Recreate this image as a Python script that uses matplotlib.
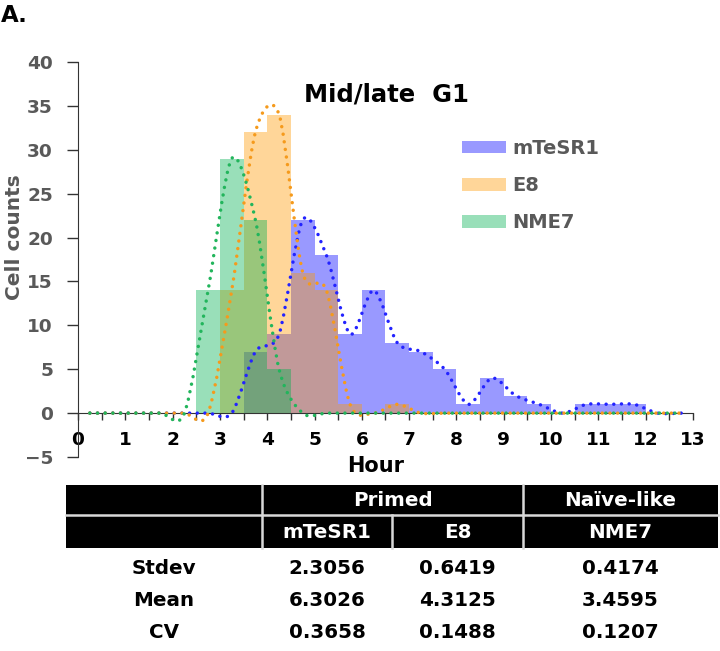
import matplotlib
matplotlib.use("Agg")
import matplotlib.pyplot as plt
import numpy as np
from matplotlib.path import Path
from matplotlib.patches import PathPatch, Rectangle

# cell counts per 0.5 h bin, 0 - 13 h
bin_edges = np.arange(0, 13.5, 0.5)
mtesr1 = [0, 0, 0, 0, 0, 0, 0, 7, 9, 22, 18, 9, 14, 8, 7, 5, 1, 4, 2, 1, 0, 1, 1, 1, 0, 0]
e8 = [0, 0, 0, 0, 0, 0, 14, 32, 34, 16, 14, 1, 0, 1, 0, 0, 0, 0, 0, 0, 0, 0, 0, 0, 0, 0]
nme7 = [0, 0, 0, 0, 0, 14, 29, 22, 5, 0, 0, 0, 0, 0, 0, 0, 0, 0, 0, 0, 0, 0, 0, 0, 0, 0]

series_names = ["mTeSR1", "E8", "NME7"]
bar_colors = ["#0000ff", "#ff9900", "#00b050"]
line_colors = ["#2323ff", "#f59a1c", "#22b55c"]

groups = ["Primed", "Naïve-like"]
row_names = ["Stdev", "Mean", "CV"]
stdev = ["2.3056", "0.6419", "0.4174"]
mean = ["6.3026", "4.3125", "3.4595"]
cv = ["0.3658", "0.1488", "0.1207"]

GRAY = "#595959"
plt.rcParams["font.family"] = ["DejaVu Sans"]
plt.rcParams["font.weight"] = "bold"


def smooth_path(x, y, k=1 / 7):
    # excel-style smoothed line: cubic bezier through every point
    pts = np.column_stack([x, y]).astype(float)
    n = len(pts)
    verts = [pts[0]]
    codes = [Path.MOVETO]
    for i in range(n - 1):
        p0 = pts[max(i - 1, 0)]
        p1 = pts[i]
        p2 = pts[i + 1]
        p3 = pts[min(i + 2, n - 1)]
        verts += [p1 + (p2 - p0) * k, p2 - (p3 - p1) * k, p2]
        codes += [Path.CURVE4] * 3
    return Path(verts, codes)


W, H = 720, 651
fig = plt.figure(figsize=(W / 100, H / 100), dpi=100)

# main chart, placed in pixel terms
ax = fig.add_axes([78 / W, 1 - 457 / H, 615 / W, 395 / H])
ax.set_xlim(0, 13)
ax.set_ylim(-5, 40)

centers = (bin_edges[:-1] + bin_edges[1:]) / 2
for counts, name, bc in zip([mtesr1, e8, nme7], series_names, bar_colors):
    ax.bar(bin_edges[:-1], counts, width=0.5, align="edge", color=bc,
           alpha=0.4, linewidth=0, label=name, zorder=2)

for counts, lc in zip([mtesr1, e8, nme7], line_colors):
    patch = PathPatch(smooth_path(centers, counts), fill=False, edgecolor=lc,
                      lw=2.5, linestyle=(0, (0.01, 2.2)), capstyle="round",
                      zorder=3)
    ax.add_patch(patch)

for s in ["top", "right"]:
    ax.spines[s].set_visible(False)
ax.spines["bottom"].set_position(("data", 0))
ax.spines["bottom"].set_color("#333333")
ax.spines["left"].set_color("#333333")
ax.spines["bottom"].set_zorder(1)

ax.set_xticks(np.arange(0, 14, 1))
ax.set_xticks(np.arange(0, 13.5, 0.5), minor=True)
ax.tick_params(axis="x", which="both", direction="out", length=5, width=1,
               color="#333333", pad=8, labelsize=13.3, labelcolor="black")
ax.set_yticks(np.arange(-5, 41, 5))
ax.tick_params(axis="y", direction="out", length=8, width=1, color="#333333",
               pad=10, labelsize=13.3, labelcolor=GRAY)

ax.set_ylabel("Cell counts", fontsize=14.5, color=GRAY, fontweight="bold")
ax.yaxis.set_label_coords(-0.088, 0.556)

fig.text(376 / W, 1 - 466 / H, "Hour", fontsize=15, fontweight="bold",
         ha="center", va="center")
fig.text(386 / W, 1 - 94 / H, "Mid/late  G1", fontsize=17.5, fontweight="bold",
         ha="center", va="center")
fig.text(1 / W, 1 - 4 / H, "A.", fontsize=16.5, fontweight="bold",
         ha="left", va="top")

ax.legend(loc="upper left", bbox_to_anchor=(462 / W, 1 - 139 / H),
          bbox_transform=fig.transFigure, frameon=False, fontsize=14,
          labelcolor=GRAY, handlelength=2.27, handleheight=0.62,
          handletextpad=0.3, labelspacing=0.93, borderpad=0, borderaxespad=0)

# stats table underneath
tab = fig.add_axes([0, 0, 1, 1])
tab.set_xlim(0, W)
tab.set_ylim(H, 0)
tab.axis("off")

left, right = 66, 718
col_edges = [66, 262, 392, 523, 718]
top, mid, bot = 485, 515, 548
tab.add_patch(Rectangle((left, top), right - left, bot - top,
                        facecolor="black", edgecolor="none"))
line_kw = dict(color="#d8d8d8", lw=1.8)
tab.plot([left, right], [mid, mid], **line_kw)
tab.plot([col_edges[1]] * 2, [top, bot], **line_kw)
tab.plot([col_edges[3]] * 2, [top, bot], **line_kw)
tab.plot([col_edges[2]] * 2, [mid, bot], **line_kw)

col_c = [(a + b) / 2 for a, b in zip(col_edges[:-1], col_edges[1:])]
tkw = dict(fontsize=14.3, fontweight="bold", ha="center", va="center")
tab.text((col_edges[1] + col_edges[3]) / 2, (top + mid) / 2 + 1, groups[0],
         color="white", **tkw)
tab.text(col_c[3], (top + mid) / 2 + 1, groups[1], color="white", **tkw)
for c, name in zip(col_c[1:], series_names):
    tab.text(c, (mid + bot) / 2 + 1, name, color="white", **tkw)

for y, name, vals in zip([569, 601, 633], row_names, [stdev, mean, cv]):
    tab.text(col_c[0], y, name, color="black", **tkw)
    for c, v in zip(col_c[1:], vals):
        tab.text(c, y, v, color="black", **tkw)

plt.savefig("out.png", dpi=100)
